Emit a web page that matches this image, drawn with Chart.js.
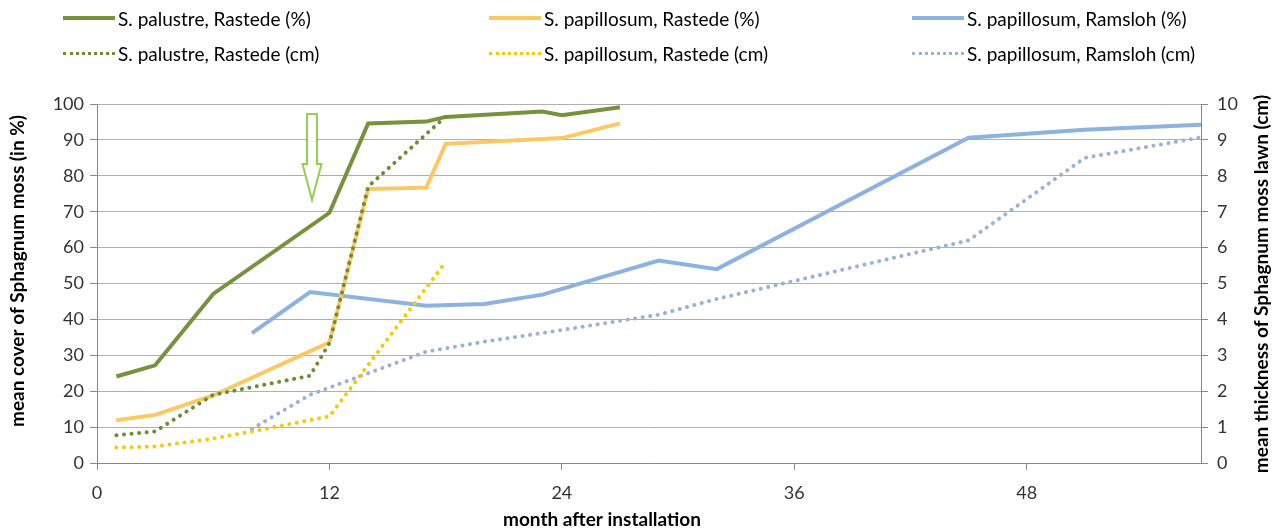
<!DOCTYPE html>
<html>
<head>
<meta charset="utf-8">
<script src="https://cdn.jsdelivr.net/npm/chart.js@4.4.1/dist/chart.umd.min.js"></script>
<style>
  html, body { margin: 0; padding: 0; background: #fff; }
  #wrap { position: relative; width: 1277px; height: 531px; }
  #legend { position: absolute; left: 0; top: 0; width: 1277px; height: 80px;
            font-family: Lato, "Open Sans", sans-serif; font-size: 19px; color: #000; }
  .item { position: absolute; display: flex; align-items: center; white-space: nowrap; height: 24px; }
  .swatch { width: 52px; height: 0; margin-right: 3px; }
</style>
</head>
<body>
<div id="wrap">
  <canvas id="chart" width="1277" height="531"></canvas>
  <div id="legend"></div>
</div>
<script>
// month after installation for each series
const palustreMonths      = [1, 3, 6, 12, 14, 17, 18, 23, 24, 27];
const palustreCover       = [24.1, 27.2, 47.1, 69.7, 94.6, 95.1, 96.4, 97.9, 96.9, 99.1];
const palustreThickMonths = [1, 3, 6, 11, 12, 14, 18];
const palustreThick       = [0.77, 0.88, 1.9, 2.43, 3.34, 7.7, 9.65];

const papRastMonths      = [1, 3, 6, 12, 14, 17, 18, 24, 27];
const papRastCover       = [11.9, 13.4, 18.8, 33.6, 76.3, 76.7, 88.9, 90.5, 94.6];
const papRastThickMonths = [1, 3, 6, 8, 12, 18];
const papRastThick       = [0.43, 0.46, 0.68, 0.88, 1.3, 5.6];

const ramslohMonths = [8, 11, 17, 20, 23, 29, 32, 45, 51, 57];
const ramslohCover  = [36.2, 47.6, 43.8, 44.3, 46.9, 56.4, 54.0, 90.6, 92.8, 94.2];
const ramslohThick  = [0.95, 1.9, 3.1, 3.38, 3.62, 4.13, 4.57, 6.2, 8.5, 9.07];

const monthTicks = [0, 12, 24, 36, 48];
const coverTicks = [0, 10, 20, 30, 40, 50, 60, 70, 80, 90, 100];
const thickTicks = [0, 1, 2, 3, 4, 5, 6, 7, 8, 9, 10];

// arrow marking the date (month, % cover values)
const arrowMonth = 11.1;
const arrowTop = 97.2, arrowHead = 83.3, arrowTip = 73.3;

const FONT = "Lato, 'Open Sans', sans-serif";

function pts(xs, ys) {
    return xs.map((x, i) => ({ x: x, y: ys[i] }));
}

function solid(label, xs, ys, color) {
    return { label: label, data: pts(xs, ys), yAxisID: "y", borderColor: color,
             backgroundColor: color, borderWidth: 4, pointRadius: 0, tension: 0, fill: false };
}

function dotted(label, xs, ys, color) {
    return { label: label, data: pts(xs, ys), yAxisID: "y2", borderColor: color,
             backgroundColor: color, borderWidth: 4, borderDash: [0.1, 7.5], borderCapStyle: "round",
             pointRadius: 0, tension: 0, fill: false, dotted: true };
}

// dotted lines first so they are drawn on top
const datasets = [
    dotted("S. palustre, Rastede (cm)", palustreThickMonths, palustreThick, "#6f8b3a"),
    dotted("S. papillosum, Rastede (cm)", papRastThickMonths, papRastThick, "#f2cc0c"),
    dotted("S. papillosum, Ramsloh (cm)", ramslohMonths, ramslohThick, "#9bb1d8"),
    solid("S. palustre, Rastede (%)", palustreMonths, palustreCover, "#76923c"),
    solid("S. papillosum, Rastede (%)", papRastMonths, papRastCover, "#fbc862"),
    solid("S. papillosum, Ramsloh (%)", ramslohMonths, ramslohCover, "#8db2e0")
];

// legend: three columns, % on first row, cm on second
const legendCols = [63, 489, 912];
const legendRows = [18, 53];
const legendOrder = [3, 4, 5, 0, 1, 2];
const legend = document.getElementById("legend");
legendOrder.forEach((di, k) => {
    const ds = datasets[di];
    const item = document.createElement("div");
    item.className = "item";
    item.style.left = legendCols[k % 3] + "px";
    item.style.top = (legendRows[Math.floor(k / 3)] - 12) + "px";
    const sw = document.createElement("div");
    sw.className = "swatch";
    sw.style.borderTop = ds.dotted ? "3px dotted " + ds.borderColor : "4px solid " + ds.borderColor;
    const txt = document.createElement("span");
    txt.textContent = ds.label;
    item.appendChild(sw);
    item.appendChild(txt);
    legend.appendChild(item);
});

const arrowPlugin = {
    id: "arrow",
    afterDatasetsDraw(chart) {
        const ctx = chart.ctx, xs = chart.scales.x, ys = chart.scales.y;
        const x = xs.getPixelForValue(arrowMonth);
        const top = ys.getPixelForValue(arrowTop);
        const head = ys.getPixelForValue(arrowHead);
        const tip = ys.getPixelForValue(arrowTip);
        ctx.save();
        ctx.beginPath();
        ctx.moveTo(x - 5, top);
        ctx.lineTo(x + 5, top);
        ctx.lineTo(x + 5, head);
        ctx.lineTo(x + 9.5, head);
        ctx.lineTo(x, tip);
        ctx.lineTo(x - 9.5, head);
        ctx.lineTo(x - 5, head);
        ctx.closePath();
        ctx.fillStyle = "#fff";
        ctx.fill();
        ctx.strokeStyle = "#92d050";
        ctx.lineWidth = 2;
        ctx.stroke();
        ctx.restore();
    }
};

// axis titles placed like the original (vertical ones read bottom-to-top)
const axisTitles = {
    id: "axisTitles",
    afterDraw(chart) {
        const ctx = chart.ctx;
        const draw = (text, x, y, rot) => {
            ctx.save();
            ctx.translate(x, y);
            ctx.rotate(rot);
            ctx.font = "bold 19px " + FONT;
            ctx.fillStyle = "#000";
            ctx.textAlign = "center";
            ctx.textBaseline = "middle";
            ctx.fillText(text, 0, 0);
            ctx.restore();
        };
        draw("mean cover of Sphagnum moss (in %)", 18, 271, -Math.PI / 2);
        draw("mean thickness of Sphagnum moss lawn (cm)", 1262, 284, -Math.PI / 2);
        draw("month after installation", 602, 520, 0);
    }
};

const axisGrey = "#868686";

new Chart(document.getElementById("chart"), {
    type: "line",
    data: { datasets: datasets },
    options: {
        responsive: false,
        animation: false,
        devicePixelRatio: 1,
        layout: { padding: { top: 104, left: 0, right: 0, bottom: 0 } },
        plugins: { legend: { display: false }, tooltip: { enabled: false } },
        scales: {
            x: {
                type: "linear",
                min: 0,
                max: 57,
                afterFit: s => { s.height = 68; },
                afterBuildTicks: s => { s.ticks = monthTicks.map(v => ({ value: v })); },
                ticks: { padding: 12, color: "#333", font: { family: FONT, size: 18 } },
                grid: { drawOnChartArea: false, tickLength: 7, color: axisGrey },
                border: { color: axisGrey }
            },
            y: {
                position: "left",
                min: 0,
                max: 100,
                afterFit: s => { s.width = 97; },
                afterBuildTicks: s => { s.ticks = coverTicks.map(v => ({ value: v })); },
                ticks: { padding: 6, color: "#333", font: { family: FONT, size: 18 } },
                grid: { color: "#b0b0b0", borderDash: [2, 2], tickLength: 7,
                        tickColor: axisGrey, tickBorderDash: [] },
                border: { color: axisGrey }
            },
            y2: {
                position: "right",
                min: 0,
                max: 10,
                afterFit: s => { s.width = 76; },
                afterBuildTicks: s => { s.ticks = thickTicks.map(v => ({ value: v })); },
                ticks: { padding: 9, color: "#333", font: { family: FONT, size: 18 } },
                grid: { drawOnChartArea: false, tickLength: 7, color: axisGrey },
                border: { color: axisGrey }
            }
        }
    },
    plugins: [arrowPlugin, axisTitles]
});
</script>
</body>
</html>
